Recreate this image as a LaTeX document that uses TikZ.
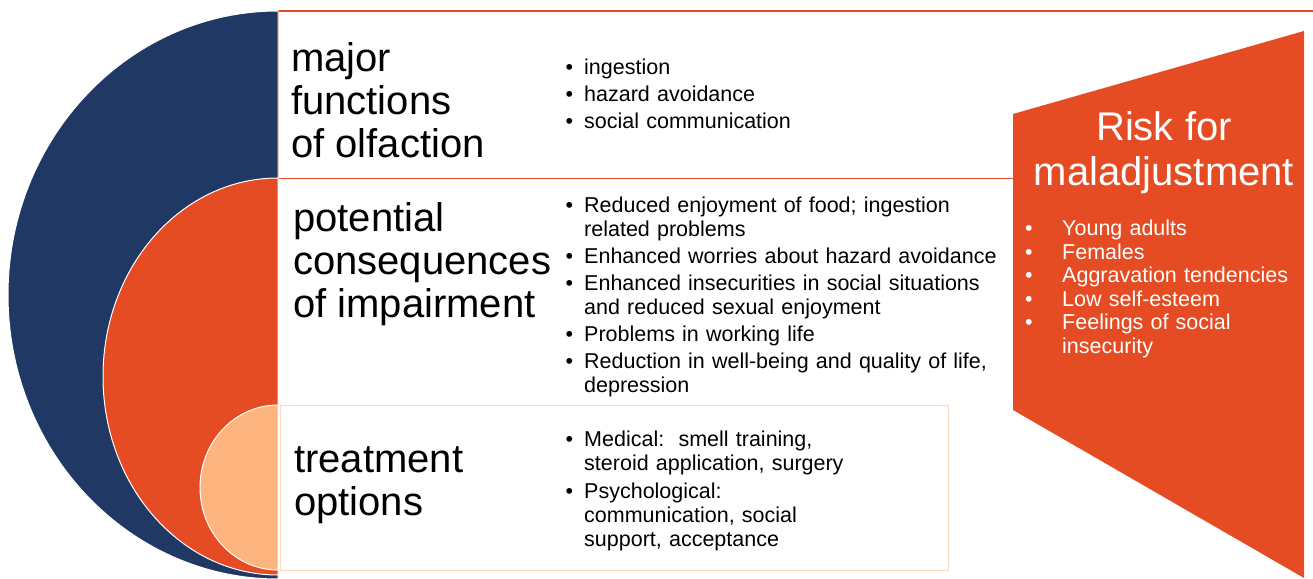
\documentclass[tikz,border=0pt]{standalone}
\usepackage{fontspec}
\setmainfont{Liberation Sans}
\usepackage{tikz}
\definecolor{navy}{HTML}{203864}
\definecolor{rust}{HTML}{E64C23}
\definecolor{peach}{HTML}{FDB47F}
\definecolor{peachline}{HTML}{FBD8C2}
% bullet list: #1 = label sep, #2 = item sep
\newenvironment{dotlist}[2]{\begin{list}{\textbullet}{%
  \setlength{\labelwidth}{8pt}\setlength{\labelsep}{#1}%
  \setlength{\leftmargin}{\dimexpr 8pt+#1\relax}%
  \setlength{\itemsep}{#2}\setlength{\parsep}{0pt}%
  \setlength{\topsep}{0pt}\setlength{\partopsep}{0pt}}}{\end{list}}
\tikzstyle{band}=[inner sep=0pt, anchor=north west, fill=white]
\tikzstyle{edge}=[rust, line width=1.2pt]
\tikzstyle{heading}=[inner sep=0pt, anchor=west, align=left, font=\fontsize{40}{43}\selectfont]
\tikzstyle{points}=[inner sep=0pt, anchor=west, font=\fontsize{21.5}{24}\selectfont]
\tikzstyle{half}=[draw=white, line width=1pt]

\begin{document}
\begin{tikzpicture}[x=1pt, y=1pt]
        \useasboundingbox (0,0) rectangle (1313,578);
        % bands
        \node[band, minimum width=1035pt, minimum height=167pt] (fun) at (278,567) {};
        \node[band, minimum width=733pt, minimum height=226pt] (con) at (280,399) {};
        \node[band, draw=peachline, line width=1pt, minimum width=668pt, minimum height=165pt] (tre) at (280,173) {};
        \draw[edge] (fun.north west) -- (fun.north east);
        \draw[edge] (fun.north west) -- (fun.south west) -- (fun.south west -| con.north east);
        % half discs
        \fill[navy, half] (278,567) arc[start angle=90, end angle=270, x radius=270pt, y radius=284pt] -- cycle;
        \fill[rust, half] (278,400) arc[start angle=90, end angle=270, x radius=175pt, y radius=198.5pt] -- cycle;
        \fill[peach, half] (278,173) arc[start angle=90, end angle=270, x radius=78pt, y radius=82.5pt] -- cycle;
        % risk block
        \fill[rust] (1013,464) -- (1304,547) -- (1304,0) -- (1013,168) -- cycle;
        % headings
        \node[heading] (h1) at (291,478) {major\\functions\\of olfaction};
        \node[heading] (h2) at (293,314) {potential\\consequences\\of impairment};
        \node[heading] (h3) at (294,93) {treatment\\options};
        \node[heading, anchor=center, align=center, text=white, font=\fontsize{40}{45}\selectfont] (h4) at (1164,425.5) {Risk for\\maladjustment};
        % lists
        \node[points, text width=330pt] (l1) at (565,488) {\begin{dotlist}{11pt}{3pt}
            \item ingestion
            \item hazard avoidance
            \item social communication
        \end{dotlist}};
        \node[points, text width=440pt] (l2) at (565,285) {\begin{dotlist}{11pt}{3pt}
            \item Reduced enjoyment of food; ingestion\\related problems
            \item Enhanced worries about hazard avoidance
            \item Enhanced insecurities in social situations\\and reduced sexual enjoyment
            \item Problems in working life
            \item Reduction in well-being and quality of life,\\depression
        \end{dotlist}};
        \node[points, text width=330pt] (l3) at (565,91) {\begin{dotlist}{11pt}{4pt}
            \item Medical:\ \ smell training,\\steroid application, surgery
            \item Psychological:\\communication, social\\support, acceptance
        \end{dotlist}};
        \node[points, text=white, text width=285pt, font=\fontsize{21.5}{23.6}\selectfont] (l4) at (1024.5,293) {\begin{dotlist}{29.5pt}{0pt}
            \item Young adults
            \item Females
            \item Aggravation tendencies
            \item Low self-esteem
            \item Feelings of social\\insecurity
        \end{dotlist}};
    \end{tikzpicture}
\end{document}
